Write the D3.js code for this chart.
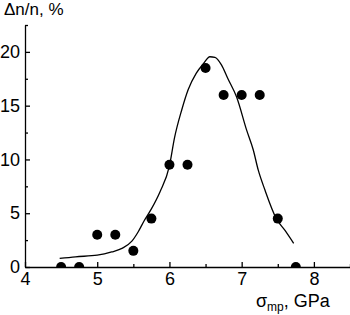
<!DOCTYPE html>
<html>
<head>
<meta charset="utf-8">
<script src="https://cdn.jsdelivr.net/npm/d3@7"></script>
<style>
  body { margin: 0; background: #fff; }
  text { font-family: "Liberation Sans", Arial, sans-serif; fill: #000; }
</style>
</head>
<body>
<div id="chart"></div>
<script>
// measured points
var pointX = [4.5, 4.75, 5.0, 5.25, 5.5, 5.75, 6.0, 6.25, 6.5, 6.75, 7.0, 7.25, 7.5, 7.75];
var pointY = [0, 0, 3, 3, 1.5, 4.5, 9.5, 9.5, 18.5, 16, 16, 16, 4.5, 0];

// fitted curve
var curveX = [4.48, 4.7, 5.0, 5.2, 5.35, 5.48, 5.57, 5.65, 5.75, 5.87, 6.0, 6.07, 6.17, 6.26, 6.37, 6.47, 6.56, 6.63, 6.72, 6.81, 6.93, 7.07, 7.16, 7.23, 7.32, 7.48, 7.6, 7.72];
var curveY = [0.8, 0.95, 1.1, 1.4, 1.75, 2.4, 3.3, 4.3, 5.4, 7.0, 9.4, 12.0, 14.6, 16.5, 18.0, 18.9, 19.55, 19.5, 18.8, 17.5, 15.8, 12.7, 10.9, 9.0, 7.2, 4.5, 3.4, 2.2];

var xMajor = [4, 5, 6, 7, 8];
var xMinor = [4.5, 5.5, 6.5, 7.5, 8.5];
var yMajor = [0, 5, 10, 15, 20];
var yMinor = [2.5, 7.5, 12.5, 17.5, 22.5];

var W = 350, H = 315;
var plotLeft = 25, plotBottom = 267, plotRight = 350, plotTop = 25;

var svg = d3.select("#chart")
  .append("svg")
  .attr("width", W)
  .attr("height", H);

var x = d3.scaleLinear().domain([4, 8.5]).range([plotLeft, plotRight]);
var y = d3.scaleLinear().domain([0, 22.5]).range([plotBottom, plotTop]);

svg.append("clipPath").attr("id", "plot")
  .append("rect").attr("x", plotLeft).attr("y", 0).attr("width", W - plotLeft).attr("height", plotBottom);

var g = svg.append("g").attr("clip-path", "url(#plot)");

// curve
g.append("path")
  .datum(curveX.map(function(d, i) { return [d, curveY[i]]; }))
  .attr("fill", "none")
  .attr("stroke", "#000")
  .attr("stroke-width", 1.3)
  .attr("d", d3.line()
    .x(function(d) { return x(d[0]); })
    .y(function(d) { return y(d[1]); })
    .curve(d3.curveMonotoneX));

// dots
g.selectAll("circle")
  .data(pointX)
  .enter()
  .append("circle")
  .attr("cx", function(d) { return x(d); })
  .attr("cy", function(d, i) { return y(pointY[i]); })
  .attr("r", 5)
  .attr("fill", "#000");

// axes
svg.append("g")
  .attr("transform", "translate(0," + plotBottom + ")")
  .call(d3.axisBottom(x).tickValues(xMajor).tickSize(-5).tickSizeOuter(0).tickPadding(5).tickFormat(d3.format("d")));
svg.append("g")
  .attr("transform", "translate(0," + plotBottom + ")")
  .call(d3.axisBottom(x).tickValues(xMinor).tickSize(-3).tickFormat(""))
  .select(".domain").remove();

svg.append("g")
  .attr("transform", "translate(" + plotLeft + ",0)")
  .call(d3.axisLeft(y).tickValues(yMajor).tickSize(-5).tickSizeOuter(0).tickPadding(5).tickFormat(d3.format("d")));
svg.append("g")
  .attr("transform", "translate(" + plotLeft + ",0)")
  .call(d3.axisLeft(y).tickValues(yMinor).tickSize(-3).tickFormat(""))
  .select(".domain").remove();

svg.selectAll(".tick line, .domain").attr("stroke", "#000").attr("stroke-width", 1.3);
svg.selectAll(".tick text")
  .attr("font-size", 18)
  .style("font-size", "18px")
  .attr("font-family", "'Liberation Sans', Arial, sans-serif");

// axis titles
svg.append("text")
  .attr("x", 4).attr("y", 15)
  .style("font-size", "17px")
  .text("\u0394n/n, %");

var xt = svg.append("text")
  .attr("x", 256).attr("y", 307)
  .style("font-size", "18px");
xt.append("tspan").text("\u03c3");
xt.append("tspan").attr("dy", 4).style("font-size", "12px").text("mp");
xt.append("tspan").attr("dy", -4).text(", GPa");
</script>
</body>
</html>
